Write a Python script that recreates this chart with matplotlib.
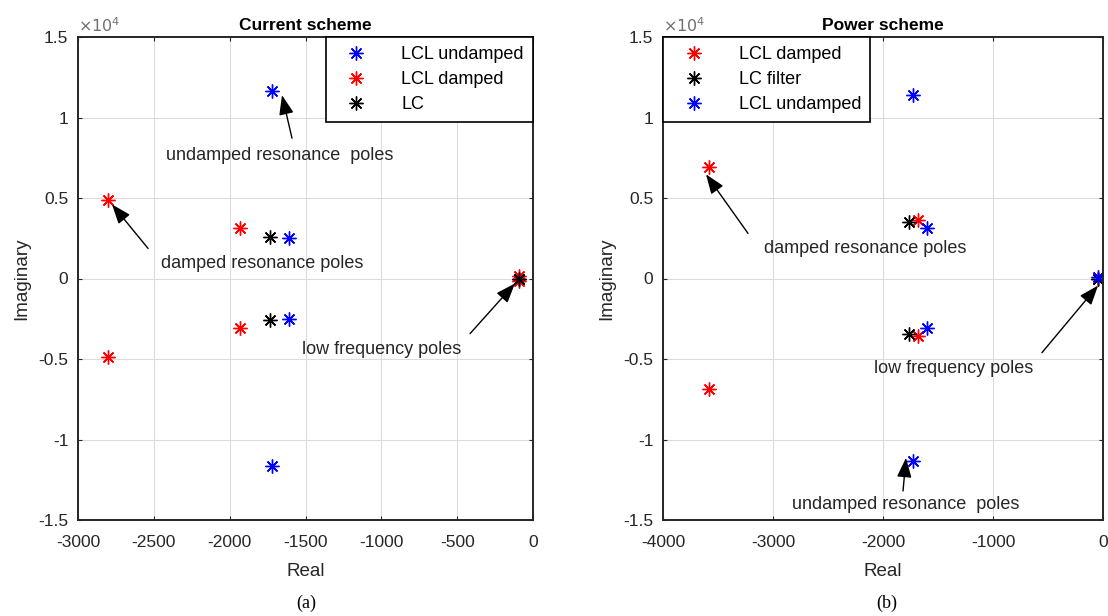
import matplotlib
matplotlib.use("Agg")
import matplotlib.pyplot as plt
from matplotlib.ticker import FixedLocator, FuncFormatter

plt.rcParams['font.family'] = ['Liberation Sans', 'DejaVu Sans']
plt.rcParams['axes.unicode_minus'] = False

# ---------- data: Current scheme ----------
cur_undamped_re = [-1720, -1720, -1610, -1610, -90]
cur_undamped_im = [11650, -11650, 2500, -2500, 0]
cur_damped_re = [-2800, -2800, -1935, -1935, -95, -95]
cur_damped_im = [4900, -4850, 3150, -3100, 150, -150]
cur_lc_re = [-1735, -1735, -90]
cur_lc_im = [2550, -2550, 0]

# ---------- data: Power scheme ----------
pow_damped_re = [-3580, -3580, -1680, -1680, -50]
pow_damped_im = [6900, -6850, 3650, -3600, 0]
pow_lc_re = [-1765, -1765, -50]
pow_lc_im = [3500, -3450, 0]
pow_undamped_re = [-1730, -1730, -1600, -1600, -50]
pow_undamped_im = [11400, -11330, 3150, -3100, 100]

y_ticks = [-15000, -10000, -5000, 0, 5000, 10000, 15000]
left_x_ticks = [-3000, -2500, -2000, -1500, -1000, -500, 0]
right_x_ticks = [-4000, -3000, -2000, -1000, 0]

W, H = 1108, 616
fig = plt.figure(figsize=(W / 100, H / 100), dpi=100)
ax1 = fig.add_axes([78 / W, 1 - 520 / H, (533 - 78) / W, (520 - 37) / H])
ax2 = fig.add_axes([663 / W, 1 - 520 / H, (1103 - 663) / W, (520 - 37) / H])

tick_col = '#262626'


def style(ax, xticks, xlim, title):
    ax.set_xlim(*xlim)
    ax.set_ylim(-15000, 15000)
    ax.xaxis.set_major_locator(FixedLocator(xticks))
    ax.yaxis.set_major_locator(FixedLocator(y_ticks))
    ax.yaxis.set_major_formatter(FuncFormatter(lambda v, p: f'{v / 1e4:g}'))
    ax.xaxis.set_major_formatter(FuncFormatter(lambda v, p: f'{v:g}'))
    ax.grid(True, color='#dcdcdc', linewidth=0.8)
    ax.set_axisbelow(True)
    ax.tick_params(direction='in', length=3, labelsize=12.5, colors=tick_col,
                   top=True, right=True)
    ax.tick_params(axis='x', pad=11)
    ax.tick_params(axis='y', pad=7)
    for s in ax.spines.values():
        s.set_linewidth(1.4)
        s.set_color('#262626')
    ax.set_xlabel('Real', fontsize=13.5, color=tick_col, labelpad=9)
    ax.set_ylabel('Imaginary', fontsize=13.5, color=tick_col, labelpad=6)
    ax.set_title(title, fontsize=12.5, fontweight='bold', pad=5)
    ax.text(0.0, 1.005, r'$\times10^4$', transform=ax.transAxes, fontsize=11.5,
            color='#707070', ha='left', va='bottom')


mk = dict(marker=(8, 2, 0), linestyle='none', markersize=10, markeredgewidth=1.0)

h1, = ax1.plot(cur_undamped_re, cur_undamped_im, color='blue', label='LCL undamped', **mk)
h2, = ax1.plot(cur_damped_re, cur_damped_im, color='red', label='LCL damped', **mk)
h3, = ax1.plot(cur_lc_re, cur_lc_im, color='black', label='LC', **mk)
style(ax1, left_x_ticks, (-3000, 0), 'Current scheme')

g1, = ax2.plot(pow_damped_re, pow_damped_im, color='red', label='LCL damped', **mk)
g2, = ax2.plot(pow_lc_re, pow_lc_im, color='black', label='LC filter', **mk)
g3, = ax2.plot(pow_undamped_re, pow_undamped_im, color='blue', label='LCL undamped', **mk)
style(ax2, right_x_ticks, (-4000, 0), 'Power scheme')

leg_kw = dict(fontsize=13, fancybox=False, framealpha=1, edgecolor='black',
              borderaxespad=0, handletextpad=1.3, handlelength=2.4, labelspacing=0.45,
              borderpad=0.5)
l1 = ax1.legend(loc='upper right', **leg_kw)
l1.get_frame().set_linewidth(1.2)
l2 = ax2.legend(loc='upper left', **leg_kw)
l2.get_frame().set_linewidth(1.2)

arrow = dict(arrowstyle='-|>,head_length=1.2,head_width=0.45', color='black',
             linewidth=1.0, shrinkA=0, shrinkB=0)
ann_kw = dict(fontsize=13, color='#262626', ha='center', va='center')

# Current scheme annotations
ax1.annotate('', xy=(-1655, 11390), xytext=(-1589, 8714), arrowprops=arrow)
ax1.text(-1668, 7655, 'undamped resonance  poles', **ann_kw)
ax1.annotate('', xy=(-2776, 4606), xytext=(-2538, 1867), arrowprops=arrow)
ax1.text(-1787, 934, 'damped resonance poles', **ann_kw)
ax1.annotate('', xy=(-119, -311), xytext=(-415, -3423), arrowprops=arrow)
ax1.text(-996, -4419, 'low frequency poles', **ann_kw)

# Power scheme annotations
ax2.annotate('', xy=(-3609, 6473), xytext=(-3227, 2800), arrowprops=arrow)
ax2.text(-2164, 1867, 'damped resonance poles', **ann_kw)
ax2.annotate('', xy=(-45, -436), xytext=(-555, -4606), arrowprops=arrow)
ax2.text(-1355, -5602, 'low frequency poles', **ann_kw)
ax2.annotate('', xy=(-1791, -11141), xytext=(-1818, -13195), arrowprops=arrow)
ax2.text(-1791, -14066, 'undamped resonance  poles', **ann_kw)

# captions
fig.text(306 / W, 1 - 603 / H, '(a)', fontsize=13, family='Liberation Serif',
         ha='center', va='center')
fig.text(887 / W, 1 - 603 / H, '(b)', fontsize=13, family='Liberation Serif',
         ha='center', va='center')

fig.savefig('out.png', dpi=100)
